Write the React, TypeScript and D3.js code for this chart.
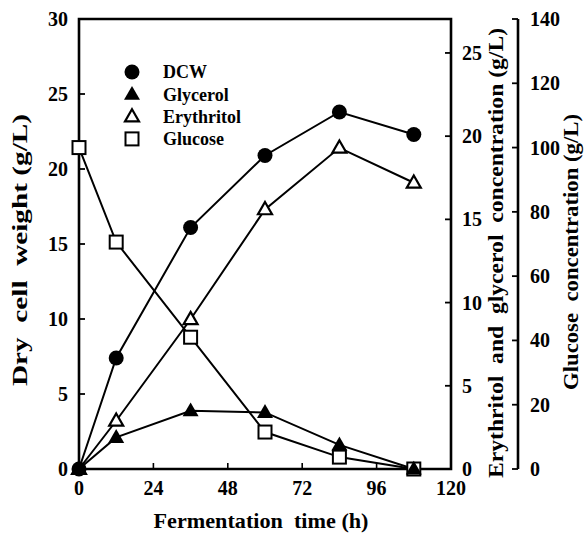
import React from 'react';
import * as d3 from 'd3';

// fermentation time (h)
const hours = [0, 12, 36, 60, 84, 108];
// series
const dcw = [0, 7.4, 16.1, 20.9, 23.8, 22.3];          // left axis, g/L
const glycerol = [0, 1.9, 3.5, 3.4, 1.45, 0];          // right axis, g/L
const erythritol = [0, 2.9, 9.0, 15.6, 19.3, 17.2];    // right axis, g/L
const glucose = [100, 70.6, 41, 11.5, 3.7, 0];         // far right axis, g/L

const xTicks = [0, 24, 48, 72, 96, 120];
const leftTicks = [0, 5, 10, 15, 20, 25, 30];
const rightTicks = [0, 5, 10, 15, 20, 25];
const glucoseTicks = [0, 20, 40, 60, 80, 100, 120, 140];

const legendItems = ['DCW', 'Glycerol', 'Erythritol', 'Glucose'];

const W = 585;
const H = 540;
const left = 79, right = 451, top = 19, bottom = 469;
const gluX = 518;
const FONT = "'Liberation Serif', 'Times New Roman', Times, serif";

const x = d3.scaleLinear().domain([0, 120]).range([left, right]);
const yL = d3.scaleLinear().domain([0, 30]).range([bottom, top]);
const yR = d3.scaleLinear().domain([0, 27.04]).range([bottom, top]);
const yG = d3.scaleLinear().domain([0, 140]).range([bottom, top]);

const tri = (cx: number, cy: number, s: number) => {
  const h = s * 0.87;
  return `M${cx},${cy - h * 0.6}L${cx + s / 2},${cy + h * 0.4}L${cx - s / 2},${cy + h * 0.4}Z`;
};

type Kind = 'circle' | 'triFilled' | 'triOpen' | 'square';

const Marker = ({ kind, cx, cy }: { kind: Kind; cx: number; cy: number }) => {
  if (kind === 'circle') return <circle cx={cx} cy={cy} r={7.5} fill="#000" />;
  if (kind === 'triFilled') return <path d={tri(cx, cy, 16)} fill="#000" />;
  if (kind === 'triOpen')
    return <path d={tri(cx, cy, 14)} fill="#fff" stroke="#000" strokeWidth={2.2} strokeLinejoin="miter" />;
  return <rect x={cx - 6.5} y={cy - 6.5} width={13} height={13} fill="#fff" stroke="#000" strokeWidth={2} />;
};

const series: { vals: number[]; y: d3.ScaleLinear<number, number>; kind: Kind }[] = [
  { vals: glucose, y: yG, kind: 'square' },
  { vals: glycerol, y: yR, kind: 'triFilled' },
  { vals: erythritol, y: yR, kind: 'triOpen' },
  { vals: dcw, y: yL, kind: 'circle' },
];

const legendKinds: Kind[] = ['circle', 'triFilled', 'triOpen', 'square'];

const txt: React.CSSProperties = { fontFamily: FONT, fontWeight: 'bold', whiteSpace: 'pre' };

export default function App() {
  const tickLen = 6;
  return (
    <svg
      width={W}
      height={H}
      style={{ position: 'absolute', left: 0, top: 0, background: '#fff', fontFamily: FONT }}
    >
      <rect width={W} height={H} fill="#fff" />

      {/* lines */}
      {series.map((s, i) => {
        const line = d3
          .line<number>()
          .x((_, j) => x(hours[j]))
          .y((v) => s.y(v));
        return <path key={i} d={line(s.vals) || ''} fill="none" stroke="#000" strokeWidth={2} />;
      })}

      {/* frame */}
      <path
        d={`M${left},${top}H${right}V${bottom}H${left}Z`}
        fill="none"
        stroke="#000"
        strokeWidth={2.6}
      />

      {/* x ticks */}
      {xTicks.map((t) => (
        <g key={t}>
          <line x1={x(t)} x2={x(t)} y1={bottom} y2={bottom - tickLen} stroke="#000" strokeWidth={1.6} />
          <text x={x(t)} y={bottom + 26} fontSize={20} textAnchor="middle" style={txt}>
            {t}
          </text>
        </g>
      ))}

      {/* left ticks */}
      {leftTicks.map((t) => (
        <g key={t}>
          <line x1={left} x2={left + tickLen} y1={yL(t)} y2={yL(t)} stroke="#000" strokeWidth={1.8} />
          <text x={left - 11} y={yL(t)} dy="0.35em" fontSize={20} textAnchor="end" style={txt}>
            {t}
          </text>
        </g>
      ))}

      {/* right (erythritol/glycerol) ticks */}
      {rightTicks.map((t) => (
        <g key={t}>
          <line x1={right} x2={right - tickLen} y1={yR(t)} y2={yR(t)} stroke="#000" strokeWidth={1.8} />
          <text x={right + 11} y={yR(t)} dy="0.35em" fontSize={20} textAnchor="start" style={txt}>
            {t}
          </text>
        </g>
      ))}

      {/* glucose axis */}
      <line x1={gluX} x2={gluX} y1={yG(140)} y2={yG(0)} stroke="#000" strokeWidth={2.6} />
      {glucoseTicks.map((t) => (
        <g key={t}>
          <line x1={gluX} x2={gluX - tickLen} y1={yG(t)} y2={yG(t)} stroke="#000" strokeWidth={1.8} />
          <text x={gluX + 12} y={yG(t)} dy="0.35em" fontSize={20} textAnchor="start" style={txt}>
            {t}
          </text>
        </g>
      ))}

      {/* markers */}
      {series.map((s, i) =>
        s.vals.map((v, j) => <Marker key={`${i}-${j}`} kind={s.kind} cx={x(hours[j])} cy={s.y(v)} />)
      )}

      {/* legend */}
      {legendItems.map((name, i) => (
        <g key={name}>
          <Marker kind={legendKinds[i]} cx={132} cy={72 + i * 22.3} />
          <text x={163} y={72 + i * 22.3} dy="0.35em" fontSize={18} style={txt}>
            {name}
          </text>
        </g>
      ))}

      {/* axis titles */}
      <text
        x={(left + right) / 2 - 4}
        y={528}
        fontSize={21}
        textAnchor="middle"
        textLength={215}
        lengthAdjust="spacingAndGlyphs"
        style={txt}
      >
        {'Fermentation  time (h)'}
      </text>
      <text
        transform={`translate(27,250) rotate(-90)`}
        fontSize={21}
        textAnchor="middle"
        textLength={272}
        lengthAdjust="spacingAndGlyphs"
        style={txt}
      >
        {'Dry  cell  weight (g/L)'}
      </text>
      <text
        transform={`translate(503,253) rotate(-90)`}
        fontSize={21}
        textAnchor="middle"
        textLength={450}
        lengthAdjust="spacingAndGlyphs"
        style={txt}
      >
        {'Erythritol  and  glycerol  concentration (g/L)'}
      </text>
      <text
        transform={`translate(578,252) rotate(-90)`}
        fontSize={21}
        textAnchor="middle"
        textLength={276}
        lengthAdjust="spacingAndGlyphs"
        style={txt}
      >
        {'Glucose  concentration (g/L)'}
      </text>
    </svg>
  );
}
